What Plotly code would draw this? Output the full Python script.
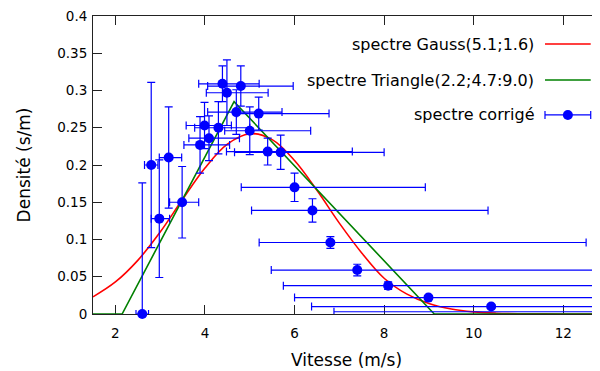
import plotly.graph_objects as go

# ---- data ----
# measured spectrum (corrected)
vx = [2.60, 2.80, 3.19, 2.98, 3.49, 3.89, 3.99, 4.09, 4.30, 4.39, 4.49, 4.70, 4.80,
      5.00, 5.20, 5.40, 5.69, 6.00, 6.40, 6.80, 7.40, 8.09, 8.99, 10.39, 12.80]
dens = [0.000, 0.200, 0.210, 0.128, 0.150, 0.227, 0.253, 0.236, 0.250, 0.309, 0.297,
        0.271, 0.306, 0.246, 0.269, 0.218, 0.217, 0.170, 0.139, 0.096, 0.059, 0.038,
        0.022, 0.010, 0.003]
x_low = [2.46, 2.65, 2.98, 2.80, 3.21, 3.53, 3.58, 3.64, 3.77, 3.86, 4.03, 4.06, 4.06,
         4.44, 4.71, 4.48, 4.66, 4.81, 5.04, 5.21, 5.48, 5.75, 6.00, 6.38, 6.88]
x_high = [2.74, 2.95, 3.48, 3.21, 3.86, 4.55, 4.59, 4.77, 5.00, 5.21, 5.41, 5.72, 5.97,
          6.36, 6.77, 7.29, 8.00, 8.92, 10.32, 12.51, 14.0, 15.0, 16.0, 18.0, 20.0]
dens_err = [0.176, 0.111, 0.068, 0.079, 0.048, 0.038, 0.031, 0.030, 0.035, 0.024, 0.044,
            0.030, 0.027, 0.032, 0.022, 0.018, 0.023, 0.019, 0.0157, 0.0078, 0.0078,
            0.005, 0.002, 0.001, 0.001]

# Gauss curve
gauss_x = [1.5, 2.0, 2.5, 3.0, 3.5, 4.0, 4.5, 5.0, 5.5, 6.0, 6.5, 7.0, 7.5, 8.0, 8.5,
           9.0, 9.5, 10.0, 10.5, 11.0, 12.0, 12.82]
gauss_y = [0.023, 0.043, 0.072, 0.110, 0.154, 0.196, 0.228, 0.242, 0.234, 0.206, 0.166,
           0.122, 0.082, 0.048, 0.027, 0.014, 0.0066, 0.0028, 0.0011, 0.0004, 0.0, 0.0]

# Triangle curve
tri_x = [1.5, 2.15, 4.65, 9.12, 12.82]
tri_y = [0.0, 0.0, 0.285, 0.0, 0.0]

# legend labels
lab_gauss = "spectre Gauss(5.1;1.6)"
lab_tri = "spectre Triangle(2.2;4.7:9.0)"
lab_data = "spectre corrigé"

x_ticks = [2, 4, 6, 8, 10, 12]
y_ticks = [0, 0.05, 0.1, 0.15, 0.2, 0.25, 0.3, 0.35, 0.4]

BLUE = "#0000ff"
RED = "#ff0000"
GREEN = "#008000"
FONT = "DejaVu Sans"

err_plus = [h - x for h, x in zip(x_high, vx)]
err_minus = [x - l for l, x in zip(x_low, vx)]

fig = go.Figure()
fig.add_trace(go.Scatter(x=gauss_x, y=gauss_y, mode="lines",
                         line=dict(color=RED, width=1.6, shape="spline", smoothing=1.0),
                         showlegend=False))
fig.add_trace(go.Scatter(x=tri_x, y=tri_y, mode="lines", line=dict(color=GREEN, width=1.6),
                         showlegend=False))
fig.add_trace(go.Scatter(
    x=vx, y=dens, mode="markers",
    marker=dict(color=BLUE, size=10, line=dict(width=0)),
    error_x=dict(type="data", symmetric=False, array=err_plus, arrayminus=err_minus,
                 color=BLUE, thickness=1.2, width=4),
    error_y=dict(type="data", array=dens_err, color=BLUE, thickness=1.2, width=4),
    showlegend=False, cliponaxis=False))

# custom gnuplot-like legend (text right aligned, sample on the right)
ann = []
shapes = []
rows = [(lab_gauss, 0.906, RED, "line"), (lab_tri, 0.785, GREEN, "line"), (lab_data, 0.668, BLUE, "err")]
sx0, sx1 = 0.8915, 0.9817
for text, py, col, kind in rows:
    ann.append(dict(text=text, x=0.874, y=py, xref="paper", yref="paper", xanchor="right",
                    yanchor="middle", showarrow=False, font=dict(family=FONT, size=16, color="#000")))
    shapes.append(dict(type="line", xref="paper", yref="paper", x0=sx0, x1=sx1, y0=py, y1=py,
                       line=dict(color=col, width=1.6 if kind == "line" else 1.2)))
    if kind == "err":
        for cx in (sx0, sx1):
            shapes.append(dict(type="line", xref="paper", yref="paper", xsizemode="scaled",
                               ysizemode="pixel", yanchor=py, x0=cx, x1=cx, y0=-4, y1=4,
                               line=dict(color=col, width=1.2)))
        shapes.append(dict(type="circle", xref="paper", yref="paper", xsizemode="pixel",
                           ysizemode="pixel", xanchor=(sx0 + sx1) / 2, yanchor=py,
                           x0=-5, x1=5, y0=-5, y1=5, fillcolor=col, line=dict(width=0)))

# the page body has an 8px margin, so the figure is made 8px smaller
fig.update_layout(
    width=592, height=363,
    margin=dict(l=85, r=0, t=8, b=57),
    paper_bgcolor="white", plot_bgcolor="white",
    font=dict(family=FONT, size=13.5, color="#000"),
    annotations=ann, shapes=shapes,
)
fig.update_xaxes(range=[1.5, 12.82], tickvals=x_ticks, ticks="inside", ticklen=9, tickcolor="#222",
                 showline=True, linecolor="#222", linewidth=1, mirror="ticks", showgrid=False,
                 zeroline=False, layer="below traces", ticklabelstandoff=7,
                 title=dict(text="Vitesse (m/s)", font=dict(size=17), standoff=13))
fig.update_yaxes(range=[0, 0.4], tickvals=y_ticks, ticktext=[str(v) for v in y_ticks], ticks="inside",
                 ticklen=9, tickcolor="#222", showline=True, linecolor="#222", linewidth=1,
                 mirror=False, showgrid=False, zeroline=False, layer="below traces",
                 ticklabelstandoff=2, ticklabeloverflow="allow",
                 title=dict(text="Densité (s/m)", font=dict(size=17), standoff=22))

fig.write_html("out.html")
